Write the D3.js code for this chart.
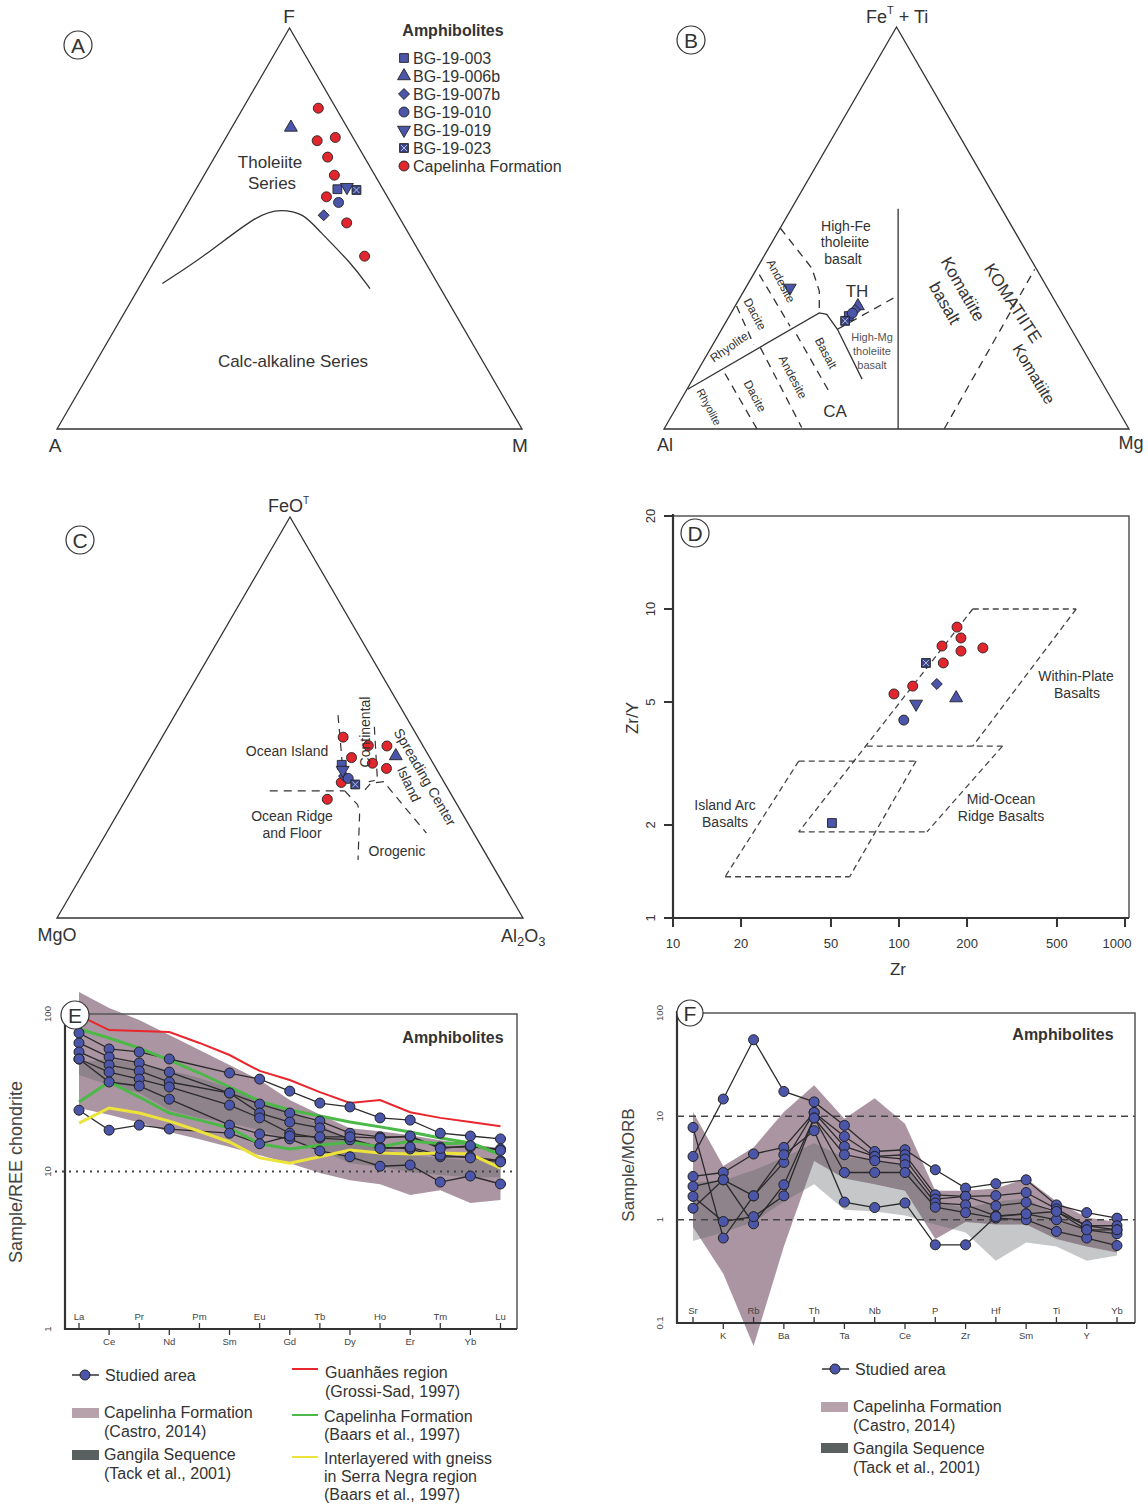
<!DOCTYPE html>
<html>
<head>
<meta charset="utf-8">
<script src="https://cdn.jsdelivr.net/npm/d3@7"></script>
<style>
  body { margin: 0; background: #fff; }
  text { font-family: "Liberation Sans", Arial, sans-serif; fill: #333; }
</style>
</head>
<body>
<div id="fig"></div>
<script>
// ---------------- data ----------------
var sampleNames = ["BG-19-003", "BG-19-006b", "BG-19-007b", "BG-19-010", "BG-19-019", "BG-19-023"];
var sampleShapes = ["square", "triangle", "diamond", "circle", "down", "squareX"];

// A: AFM  [F, A, M] in %
var afmStudied = [[59.8, 9.8, 30.4], [75.2, 12.1, 12.7], [53.3, 16, 30.7], [56.5, 11.2, 32.3], [60.3, 7.5, 32.2], [59.6, 5.8, 34.6]];
var afmCapelinha = [[80, 3.8, 16.2], [71.9, 8.1, 20], [72.7, 3.8, 23.5], [67.8, 7.9, 24.3], [63.3, 8.7, 28], [57.9, 13.1, 29], [51.4, 12, 36.6], [43.1, 12.3, 44.6]];
var afmDivide = [[36.3, 59.2, 4.5], [42.9, 47, 10.1], [53.8, 29.7, 16.5], [54.8, 24.4, 20.8], [53.8, 20.1, 26.1], [49.6, 19, 31.4], [41.3, 16, 42.7], [35, 15.2, 49.8]];

// B: Jensen  [FeT+Ti, Al, Mg]
var jensenStudied = [[28.1, 46.2, 25.7], [30.6, 43, 26.4], [29.6, 44.1, 26.3], [28.8, 45.1, 26.1], [35.1, 55.4, 9.5], [26.9, 47.6, 25.5]];
var jensenSolid = [
  [[0, 49.65, 50.35], [54.8, 22.25, 22.95]],
  [[9.9, 89.95, 0.15], [28.9, 52.15, 18.95], [28.5, 50.75, 20.75], [24.8, 50.3, 24.9], [12.4, 51.2, 36.4]]
];
var jensenDashed = [
  [[24.8, 50.3, 24.9], [32.8, 33.9, 33.3]],
  [[50, 50, 0], [40, 48.2, 11.8], [34.3, 49.45, 16.25], [28.9, 52.15, 18.95]],
  [[30.6, 69.1, 0.3], [21, 70.2, 8.8]],
  [[38.4, 60.3, 1.3], [25.6, 60.1, 14.3]],
  [[13.8, 80, 6.2], [0, 80, 20]],
  [[20.25, 69.15, 10.6], [0.4, 70.2, 29.4]],
  [[23.55, 59.75, 16.7], [9.5, 59.85, 30.65]],
  [[0, 39.75, 60.25], [39.7, 0.45, 59.85]]
];

// C: FeO(T) - MgO - Al2O3  [FeO, MgO, Al2O3]
var pearceStudied = [[38.2, 19.8, 42], [40.4, 7.1, 52.5], [35.4, 20.7, 43.9], [34.8, 20.1, 45.1], [36.9, 20.25, 42.85], [33.3, 19.35, 47.35]];
var pearceCapelinha = [[45.1, 16.05, 38.85], [43, 11.7, 45.3], [42.9, 7.75, 49.35], [40, 16.8, 43.2], [38.6, 13, 48.4], [37.3, 10.65, 52.05], [33.8, 22.1, 44.1], [29.6, 27.2, 43.2]];
var pearceFields = [
  [[50.6, 14.4, 35.0], [40.25, 18.78, 40.98], [32.8, 22.25, 44.95]],
  [[31.7, 38.5, 29.8], [31.7, 22.4, 45.9]],
  [[31.7, 22.4, 45.9], [28.2, 21.36, 50.44], [26.14, 21.99, 51.87], [14.5, 28.15, 57.35]],
  [[47.7, 8.05, 44.25], [34.4, 14.04, 51.56], [34.0, 16.1, 49.9]],
  [[31.95, 17.93, 50.12], [33.6, 15.9, 50.5], [34.0, 12.9, 53.1], [27.8, 11.6, 60.6], [21.16, 10.12, 68.58]]
];

// D: Zr vs Zr/Y
var zrStudied = [[50.5, 2.03], [179, 5.15], [147, 5.72], [105, 4.37], [119, 4.93], [131.6, 6.69]];
var zrCapelinha = [[180.6, 8.74], [188, 8.06], [155, 7.59], [188, 7.31], [235, 7.48], [157, 6.69], [115, 5.63], [95, 5.31]];
var zrFields = [
  [[212, 10], [608, 10]], [[608, 10], [212, 3.6]], [[72, 3.6], [287, 3.6]],
  [[212, 10], [36, 1.9]], [[287, 3.6], [133, 1.9]], [[36, 1.9], [133, 1.9]],
  [[36, 3.22], [119, 3.22]], [[36, 3.22], [17, 1.36]], [[17, 1.36], [60.5, 1.36]], [[119, 3.22], [60.5, 1.36]]
];
var zrTicks = [10, 20, 50, 100, 200, 500, 1000];
var zrYTicks = [1, 2, 5, 10, 20];

// E: chondrite-normalised REE
var reeElements = ["La", "Ce", "Pr", "Nd", "Pm", "Sm", "Eu", "Gd", "Tb", "Dy", "Ho", "Er", "Tm", "Yb", "Lu"];
var reeStudied = [
  [75.8, 60, 57.4, 51.8, null, 42.2, 38.6, 32.4, 27.2, 25.7, 21.9, 21.2, 17.5, 16.8, 16.1],
  [65.5, 53.3, 48.9, 42.8, null, 31.5, 26.8, 23.5, 20.9, 17.5, 16.6, 16.6, 14.3, 14.3, 13.9],
  [57.4, 47.4, 43.5, 37.0, null, 31.5, 23.5, 20.6, 18.9, 16.1, 14.3, 13.9, 12.4, 12.4, 11.7],
  [51.8, 42.8, 38.6, 34.4, null, 26.4, 21.9, 17.5, 16.3, 15.9, 14.0, 14.3, 12.7, 12.2, 11.5],
  [51.8, 37.0, 34.9, 28.8, null, 19.7, 17.3, 16.1, 13.5, 12.4, 10.8, 11.0, 8.57, 9.36, 8.33],
  [24.5, 18.3, 19.7, 18.6, null, 17.5, 15.0, 16.8, 16.6, 16.6, 16.3, 16.8, 14.0, 14.6, 13.6]
];
var reeGuanhaes = [98, 79.1, 78, 76.8, 65.5, 54.9, 43.5, 38.1, 31.9, 27.2, 28.4, 23.8, 21.9, 20.6, 19.4];
var reeBaarsA = [80.3, 70.4, 60.8, 51.0, 42.2, 34.4, 28.0, 24.6, 22.5, 20.6, 19.2, 17.8, 16.3, 15.2, 12.8];
var reeBaarsB = [27.6, 37.0, 29.7, 23.5, 21.2, 18.9, 15.0, 13.9, 14.7, 15.4, 14.3, 15.6, 15.0, 15.2, 12.8];
var reeSerraNegra = [20.3, 25.3, 23.5, 20.9, 18.0, 15.4, 12.2, 11.3, 12.4, 13.7, 13.1, 12.9, 13.1, 12.9, 10.5];
var reeCastroHigh = [138, 109, 91.6, 73.6, 59, 47.4, 38.1, 28.4, 23, 18.8, 18, 17, 15.8, 15, 14];
var reeCastroLow = [25.3, 22.9, 20.5, 17.8, 16, 14.3, 12.7, 11.3, 9.8, 8.8, 8.3, 7.1, 7.6, 6.3, 6.6];
var reeGangilaHigh = [49, 52, 48, 44, 39.2, 33.9, 28.4, 24.5, 19.7, 15.8, 14.1, 12.7, 12.2, 11.8, 11.8];
var reeGangilaLow = [41.0, 35.4, 31.5, 24.5, 21.9, 20.3, 18.3, 15.8, 13.7, 11.3, 10.7, 9.93, 9.5, 9.2, 9.2];

// F: MORB-normalised spider
var spiderElements = ["Sr", "K", "Rb", "Ba", "Th", "Ta", "Nb", "Ce", "P", "Zr", "Hf", "Sm", "Ti", "Y", "Yb"];
var spiderStudied = [
  [4.09, 14.7, 55.1, 17.4, 13.8, 8.17, 4.57, 4.75, 3.04, 2.02, 2.23, 2.43, 1.39, 1.17, 1.035],
  [7.81, 0.664, 1.70, 3.58, 10.9, 6.39, 4.09, 4.25, 1.74, 1.68, 1.71, 1.83, 1.27, 0.873, 0.873],
  [2.62, 2.86, 4.32, 5.0, 10.9, 5.11, 4.09, 3.86, 1.58, 1.68, 1.36, 1.47, 1.20, 0.873, 0.798],
  [2.10, 2.43, 0.912, 2.18, 9.63, 4.25, 3.72, 3.40, 1.45, 1.39, 1.09, 1.14, 0.998, 0.798, 0.73],
  [1.68, 0.96, 1.07, 1.70, 9.63, 2.86, 2.86, 2.86, 1.32, 1.17, 1.035, 0.998, 0.769, 0.664, 0.562],
  [1.29, 2.43, 1.70, 4.25, 7.26, 1.48, 1.31, 1.45, 0.571, 0.571, 1.07, 1.14, 1.20, 0.798, 0.798]
];
var spiderCastroHigh = [11, 3.3, 5, 11, 20, 9.5, 15, 8.5, 1.9, 1.9, 2.0, 2.5, 1.5, 1.05, 0.95];
var spiderCastroLow = [0.85, 0.3, 0.06, 0.55, 3.7, 2.5, 2.2, 1.9, 0.65, 0.95, 0.9, 0.9, 0.65, 0.55, 0.48];
var spiderGangilaHigh = [2.3, 2.4, 3.0, 4.0, 5.5, 4.0, 3.8, 3.3, 1.5, 1.3, 1.5, 1.6, 1.1, 0.85, 0.75];
var spiderGangilaLow = [0.62, 0.75, 0.95, 1.5, 2.2, 1.25, 1.2, 1.1, 0.9, 0.75, 0.4, 0.6, 0.55, 0.4, 0.45];

// ---------------- drawing ----------------
var ink = "#333", blueFill = "#4b55a9", redFill = "#e2262d";
var mauve = "#ab95a2", gangila = "#5a5f60";

var svg = d3.select("#fig").append("svg").attr("width", 1148).attr("height", 1505);

function marker(g, shape, x, y) {
  var m = g.append("g").attr("transform", "translate(" + x + "," + y + ")")
    .attr("stroke", "#222").attr("stroke-width", 0.9);
  if (shape === "capelinha") m.append("circle").attr("r", 5).attr("fill", redFill);
  else if (shape === "circle") m.append("circle").attr("r", 5).attr("fill", blueFill);
  else if (shape === "square") m.append("path").attr("d", d3.symbol(d3.symbolSquare, 78)()).attr("fill", blueFill);
  else if (shape === "squareX") {
    m.append("path").attr("d", d3.symbol(d3.symbolSquare, 78)()).attr("fill", "#3a4488");
    m.append("path").attr("d", "M-3,-3L3,3M-3,3L3,-3").attr("stroke", "#b9bdd8").attr("stroke-width", 1);
  }
  else if (shape === "triangle") m.append("path").attr("d", d3.symbol(d3.symbolTriangle, 72)()).attr("fill", blueFill);
  else if (shape === "down") m.append("path").attr("d", d3.symbol(d3.symbolTriangle, 72)()).attr("transform", "rotate(180)").attr("fill", blueFill);
  else if (shape === "diamond") m.append("path").attr("d", d3.symbol(d3.symbolSquare, 60)()).attr("transform", "rotate(45)").attr("fill", blueFill);
}

function circleLabel(x, y, r, letter) {
  svg.append("circle").attr("cx", x).attr("cy", y).attr("r", r)
    .attr("fill", "#fff").attr("stroke", ink).attr("stroke-width", 1.2);
  svg.append("text").attr("x", x).attr("y", y + 7.5).attr("text-anchor", "middle")
    .attr("font-size", 21).text(letter);
}

function label(txt, x, y, size, opts) {
  opts = opts || {};
  var t = svg.append("text").attr("font-size", size).attr("text-anchor", opts.anchor || "middle").text(txt);
  if (opts.rotate) t.attr("transform", "translate(" + x + "," + y + ") rotate(" + opts.rotate + ")").attr("dy", "0.35em");
  else t.attr("x", x).attr("y", y);
  if (opts.bold) t.attr("font-weight", "bold");
  if (opts.fill) t.style("fill", opts.fill);
  return t;
}

// ternary projection through linear scales
function ternary(left, right, apexY) {
  var sx = d3.scaleLinear().domain([0, 1]).range([left[0], right[0]]);
  var sy = d3.scaleLinear().domain([0, 1]).range([left[1], apexY]);
  return function (c) {
    var s = c[0] + c[1] + c[2], t = c[0] / s, r = c[2] / s;
    return [sx(r + t / 2), sy(t)];
  };
}

function drawTriangle(proj) {
  var pts = [proj([100, 0, 0]), proj([0, 100, 0]), proj([0, 0, 100])];
  svg.append("path").attr("d", "M" + pts.join("L") + "Z")
    .attr("fill", "none").attr("stroke", ink).attr("stroke-width", 1.3);
}

function ternLine(proj, pts, dashed, width) {
  svg.append("path").attr("d", d3.line().x(function (d) { return proj(d)[0]; }).y(function (d) { return proj(d)[1]; })(pts))
    .attr("fill", "none").attr("stroke", ink).attr("stroke-width", width || 1.3)
    .attr("stroke-dasharray", dashed ? "8,6" : null);
}

// ===== Panel A: AFM =====
var pA = ternary([57, 429], [522, 429], 28);
drawTriangle(pA);
svg.append("path").attr("d", d3.line().curve(d3.curveBasis)
    .x(function (d) { return pA(d)[0]; }).y(function (d) { return pA(d)[1]; })(afmDivide))
  .attr("fill", "none").attr("stroke", ink).attr("stroke-width", 1.3);
var gA = svg.append("g");
afmCapelinha.forEach(function (c) { var p = pA(c); marker(gA, "capelinha", p[0], p[1]); });
afmStudied.forEach(function (c, i) { var p = pA(c); marker(gA, sampleShapes[i], p[0], p[1]); });
circleLabel(78, 45, 14, "A");
label("F", 289, 23, 19);
label("A", 55, 452, 19);
label("M", 520, 452, 19);
label("Tholeiite", 270, 168, 17);
label("Series", 272, 189, 17);
label("Calc-alkaline Series", 293, 367, 17);
label("Amphibolites", 453, 36, 16, { bold: true });
var legA = sampleNames.concat(["Capelinha Formation"]);
var legShapes = sampleShapes.concat(["capelinha"]);
var legRows = d3.scaleLinear().domain([0, legA.length - 1]).range([58, 166]);
legA.forEach(function (n, i) {
  marker(gA, legShapes[i], 404, legRows(i));
  label(n, 413, legRows(i) + 5.5, 16, { anchor: "start" });
});

// ===== Panel B: Jensen =====
var pB = ternary([664, 429], [1129, 429], 27);
drawTriangle(pB);
jensenSolid.forEach(function (l) { ternLine(pB, l, false); });
jensenDashed.forEach(function (l) { ternLine(pB, l, true); });
var gB = svg.append("g");
jensenStudied.forEach(function (c, i) { var p = pB(c); marker(gB, sampleShapes[i], p[0], p[1]); });
circleLabel(691, 40, 14, "B");
var feLab = svg.append("text").attr("x", 866).attr("y", 23).attr("font-size", 18);
feLab.append("tspan").text("Fe");
feLab.append("tspan").attr("dy", -9).attr("font-size", 11).text("T");
feLab.append("tspan").attr("dy", 9).text(" + Ti");
label("Al", 665, 451, 18);
label("Mg", 1131, 449, 18);
label("High-Fe", 846, 231, 14);
label("tholeiite", 845, 247, 14);
label("basalt", 843, 264, 14);
label("TH", 857, 297, 17);
label("High-Mg", 872, 341, 11, { fill: "#555" });
label("tholeiite", 872, 355, 11, { fill: "#555" });
label("basalt", 872, 369, 11, { fill: "#555" });
label("CA", 835, 417, 17);
label("Andesite", 781, 281, 12, { rotate: 62 });
label("Dacite", 755, 314, 12, { rotate: 62 });
label("Rhyolite", 729, 347, 12, { rotate: -35 });
label("Basalt", 826, 353, 12, { rotate: 62 });
label("Andesite", 793, 377, 12, { rotate: 62 });
label("Dacite", 755, 396, 12, { rotate: 62 });
label("Rhyolite", 709, 407, 11, { rotate: 62 });
label("Komatiite", 963, 289, 17, { rotate: 60 });
label("basalt", 945, 303, 17, { rotate: 60 });
label("KOMATIITE", 1013, 303, 17, { rotate: 57 });
label("Komatiite", 1034, 374, 16, { rotate: 59 });

// ===== Panel C: Pearce FeO-MgO-Al2O3 =====
var pC = ternary([57, 918], [523, 918], 517);
drawTriangle(pC);
pearceFields.forEach(function (l) { ternLine(pC, l, true, 1.2); });
var gC = svg.append("g");
pearceCapelinha.forEach(function (c) { var p = pC(c); marker(gC, "capelinha", p[0], p[1]); });
pearceStudied.forEach(function (c, i) { var p = pC(c); marker(gC, sampleShapes[i], p[0], p[1]); });
circleLabel(80, 540, 14, "C");
var feoLab = svg.append("text").attr("x", 268).attr("y", 512).attr("font-size", 18);
feoLab.append("tspan").text("FeO");
feoLab.append("tspan").attr("dy", -8).attr("font-size", 10).text("T");
label("MgO", 57, 941, 18);
var alLab = svg.append("text").attr("x", 501).attr("y", 942).attr("font-size", 18);
alLab.append("tspan").text("Al");
alLab.append("tspan").attr("dy", 4).attr("font-size", 13).text("2");
alLab.append("tspan").attr("dy", -4).text("O");
alLab.append("tspan").attr("dy", 4).attr("font-size", 13).text("3");
label("Ocean Island", 287, 756, 14);
label("Ocean Ridge", 292, 821, 14);
label("and Floor", 292, 838, 14);
label("Orogenic", 397, 856, 14);
label("Continental", 365, 732, 14, { rotate: -90 });
label("Spreading Center", 425, 777, 14, { rotate: 60 });
label("Island", 409, 784, 14, { rotate: 65 });

// ===== Panel D: Zr vs Zr/Y =====
var xD = d3.scaleLog().domain([10, 1000]).range([673, 1125]);
var yD = d3.scaleLog().domain([1, 20]).range([918, 516]);
svg.append("path").attr("d", "M673,516H1129V918").attr("fill", "none").attr("stroke", "#555").attr("stroke-width", 1.5);
svg.append("path").attr("d", "M673,514V918H1129").attr("fill", "none").attr("stroke", ink).attr("stroke-width", 2.2);
zrTicks.forEach(function (t) {
  svg.append("line").attr("x1", xD(t)).attr("x2", xD(t)).attr("y1", 918).attr("y2", 927).attr("stroke", ink).attr("stroke-width", 2);
  label(String(t), t === 1000 ? xD(t) - 8 : xD(t), 948, 13);
});
zrYTicks.forEach(function (t) {
  svg.append("line").attr("x1", 664).attr("x2", 673).attr("y1", yD(t)).attr("y2", yD(t)).attr("stroke", ink).attr("stroke-width", 2);
  label(String(t), 650, yD(t), 13, { rotate: -90 });
});
zrFields.forEach(function (l) {
  svg.append("path").attr("d", d3.line().x(function (d) { return xD(d[0]); }).y(function (d) { return yD(d[1]); })(l))
    .attr("fill", "none").attr("stroke", "#444").attr("stroke-width", 1.3).attr("stroke-dasharray", "6,4");
});
var gD = svg.append("g");
zrCapelinha.forEach(function (d) { marker(gD, "capelinha", xD(d[0]), yD(d[1])); });
zrStudied.forEach(function (d, i) { marker(gD, sampleShapes[i], xD(d[0]), yD(d[1])); });
circleLabel(695, 533, 14, "D");
label("Zr/Y", 632, 718, 17, { rotate: -90 });
label("Zr", 898, 975, 17);
label("Within-Plate", 1076, 681, 14);
label("Basalts", 1077, 698, 14);
label("Island Arc", 725, 810, 14);
label("Basalts", 725, 827, 14);
label("Mid-Ocean", 1001, 804, 14);
label("Ridge Basalts", 1001, 821, 14);

// ===== spider panels helper =====
function bandPath(x, y, cats, hi, lo) {
  var top = cats.map(function (c, i) { return [x(c), y(hi[i])]; });
  var bot = cats.map(function (c, i) { return [x(c), y(lo[i])]; }).reverse();
  return "M" + top.concat(bot).join("L") + "Z";
}

function spider(cfg) {
  var x = cfg.x, y = cfg.y, cats = cfg.cats;
  svg.append("path").attr("d", bandPath(x, y, cats, cfg.castroHi, cfg.castroLo)).attr("fill", mauve);
  svg.append("path").attr("d", bandPath(x, y, cats, cfg.gangHi, cfg.gangLo)).attr("fill", gangila).attr("fill-opacity", 0.35);
  // frame
  svg.append("path").attr("d", "M" + cfg.left + "," + cfg.top + "H" + cfg.right + "V" + cfg.bottom)
    .attr("fill", "none").attr("stroke", "#555").attr("stroke-width", 1.5);
  svg.append("path").attr("d", "M" + cfg.left + "," + (cfg.top - 2) + "V" + cfg.bottom + "H" + cfg.right)
    .attr("fill", "none").attr("stroke", ink).attr("stroke-width", 2.2);
  cfg.refLines.forEach(function (v) {
    svg.append("line").attr("x1", cfg.refX0).attr("x2", cfg.right).attr("y1", y(v)).attr("y2", y(v))
      .attr("stroke", "#444").attr("stroke-width", cfg.refWidth).attr("stroke-dasharray", cfg.refDash);
  });
  cfg.yTicks.forEach(function (t) {
    label(String(t), cfg.left - 17, y(t), 9.5, { rotate: -90, fill: "#444" });
  });
  cats.forEach(function (c, i) {
    var up = i % 2 === 0;
    svg.append("line").attr("x1", x(c)).attr("x2", x(c))
      .attr("y1", cfg.bottom).attr("y2", up ? cfg.bottom - 6 : cfg.bottom + 6)
      .attr("stroke", ink).attr("stroke-width", 1.3);
    label(c, x(c), up ? cfg.bottom - 9 : cfg.bottom + 16, 9.5, { fill: "#444" });
  });
}

function studiedLines(x, y, cats, rows) {
  var ln = d3.line().x(function (d) { return x(d[0]); }).y(function (d) { return y(d[1]); });
  rows.forEach(function (r) {
    var pts = cats.map(function (c, i) { return [c, r[i]]; }).filter(function (d) { return d[1] != null; });
    svg.append("path").attr("d", ln(pts)).attr("fill", "none").attr("stroke", "#2b2b2b").attr("stroke-width", 1.3);
  });
}
function studiedPoints(x, y, cats, rows) {
  rows.forEach(function (r) {
    cats.forEach(function (c, i) {
      if (r[i] == null) return;
      svg.append("circle").attr("cx", x(c)).attr("cy", y(r[i])).attr("r", 5)
        .attr("fill", blueFill).attr("stroke", "#222").attr("stroke-width", 1);
    });
  });
}

// ===== Panel E: REE =====
var xE = d3.scalePoint().domain(reeElements).range([79, 500.5]);
var yE = d3.scaleLog().domain([1, 100]).range([1329, 1014]);
spider({ x: xE, y: yE, cats: reeElements, left: 65, right: 517, top: 1014, bottom: 1329,
  castroHi: reeCastroHigh, castroLo: reeCastroLow, gangHi: reeGangilaHigh, gangLo: reeGangilaLow,
  refLines: [10], refX0: 55, refWidth: 2.2, refDash: "2,5", yTicks: [100, 10, 1] });
studiedLines(xE, yE, reeElements, reeStudied);
[[reeGuanhaes, "#e8262b", 2], [reeBaarsA, "#4cb848", 3], [reeBaarsB, "#4cb848", 3], [reeSerraNegra, "#ece43a", 3]].forEach(function (s) {
  svg.append("path").attr("d", d3.line().x(function (d, i) { return xE(reeElements[i]); }).y(function (d) { return yE(d); })(s[0]))
    .attr("fill", "none").attr("stroke", s[1]).attr("stroke-width", s[2]);
});
studiedPoints(xE, yE, reeElements, reeStudied);
circleLabel(75, 1015, 14, "E");
label("Amphibolites", 453, 1043, 16, { bold: true });
label("Sample/REE chondrite", 16, 1172, 18, { rotate: -90, fill: "#444" });

// ===== Panel F: MORB spider =====
var xF = d3.scalePoint().domain(spiderElements).range([693, 1117]);
var yF = d3.scaleLog().domain([0.1, 100]).range([1323, 1013]);
spider({ x: xF, y: yF, cats: spiderElements, left: 677, right: 1135, top: 1013, bottom: 1323,
  castroHi: spiderCastroHigh, castroLo: spiderCastroLow, gangHi: spiderGangilaHigh, gangLo: spiderGangilaLow,
  refLines: [10, 1], refX0: 677, refWidth: 1.5, refDash: "7,5", yTicks: [100, 10, 1, 0.1] });
studiedLines(xF, yF, spiderElements, spiderStudied);
studiedPoints(xF, yF, spiderElements, spiderStudied);
circleLabel(690, 1013, 13, "F");
label("Amphibolites", 1063, 1040, 16, { bold: true });
label("Sample/MORB", 628, 1165, 17, { rotate: -90, fill: "#444" });

// ===== legends =====
function legStudied(x, y) {
  svg.append("line").attr("x1", x).attr("x2", x + 27).attr("y1", y).attr("y2", y).attr("stroke", ink).attr("stroke-width", 1.5);
  svg.append("circle").attr("cx", x + 13).attr("cy", y).attr("r", 5).attr("fill", blueFill).attr("stroke", "#222");
}
function legSwatch(x, y, col) {
  svg.append("rect").attr("x", x).attr("y", y - 5).attr("width", 27).attr("height", 10).attr("fill", col);
}
function legLine(x, y, col) {
  svg.append("line").attr("x1", x).attr("x2", x + 26).attr("y1", y).attr("y2", y).attr("stroke", col).attr("stroke-width", 2);
}
var lf = 16;
legStudied(72, 1375); label("Studied area", 105, 1381, lf, { anchor: "start" });
legSwatch(72, 1413, "#b7a2ab"); label("Capelinha Formation", 104, 1418, lf, { anchor: "start" });
label("(Castro, 2014)", 104, 1437, lf, { anchor: "start" });
legSwatch(72, 1455, gangila); label("Gangila Sequence", 104, 1460, lf, { anchor: "start" });
label("(Tack et al., 2001)", 104, 1479, lf, { anchor: "start" });
legLine(292, 1369, "#e8262b"); label("Guanhães region", 325, 1378, lf, { anchor: "start" });
label("(Grossi-Sad, 1997)", 325, 1397, lf, { anchor: "start" });
legLine(292, 1415, "#4cb848"); label("Capelinha Formation", 324, 1422, lf, { anchor: "start" });
label("(Baars et al., 1997)", 324, 1440, lf, { anchor: "start" });
legLine(292, 1457, "#ece43a"); label("Interlayered with gneiss", 324, 1464, lf, { anchor: "start" });
label("in Serra Negra region", 324, 1482, lf, { anchor: "start" });
label("(Baars et al., 1997)", 324, 1500, lf, { anchor: "start" });

legStudied(822, 1369); label("Studied area", 855, 1375, lf, { anchor: "start" });
legSwatch(821, 1407, "#b7a2ab"); label("Capelinha Formation", 853, 1412, lf, { anchor: "start" });
label("(Castro, 2014)", 853, 1431, lf, { anchor: "start" });
legSwatch(821, 1448, gangila); label("Gangila Sequence", 853, 1454, lf, { anchor: "start" });
label("(Tack et al., 2001)", 853, 1473, lf, { anchor: "start" });
</script>
</body>
</html>
